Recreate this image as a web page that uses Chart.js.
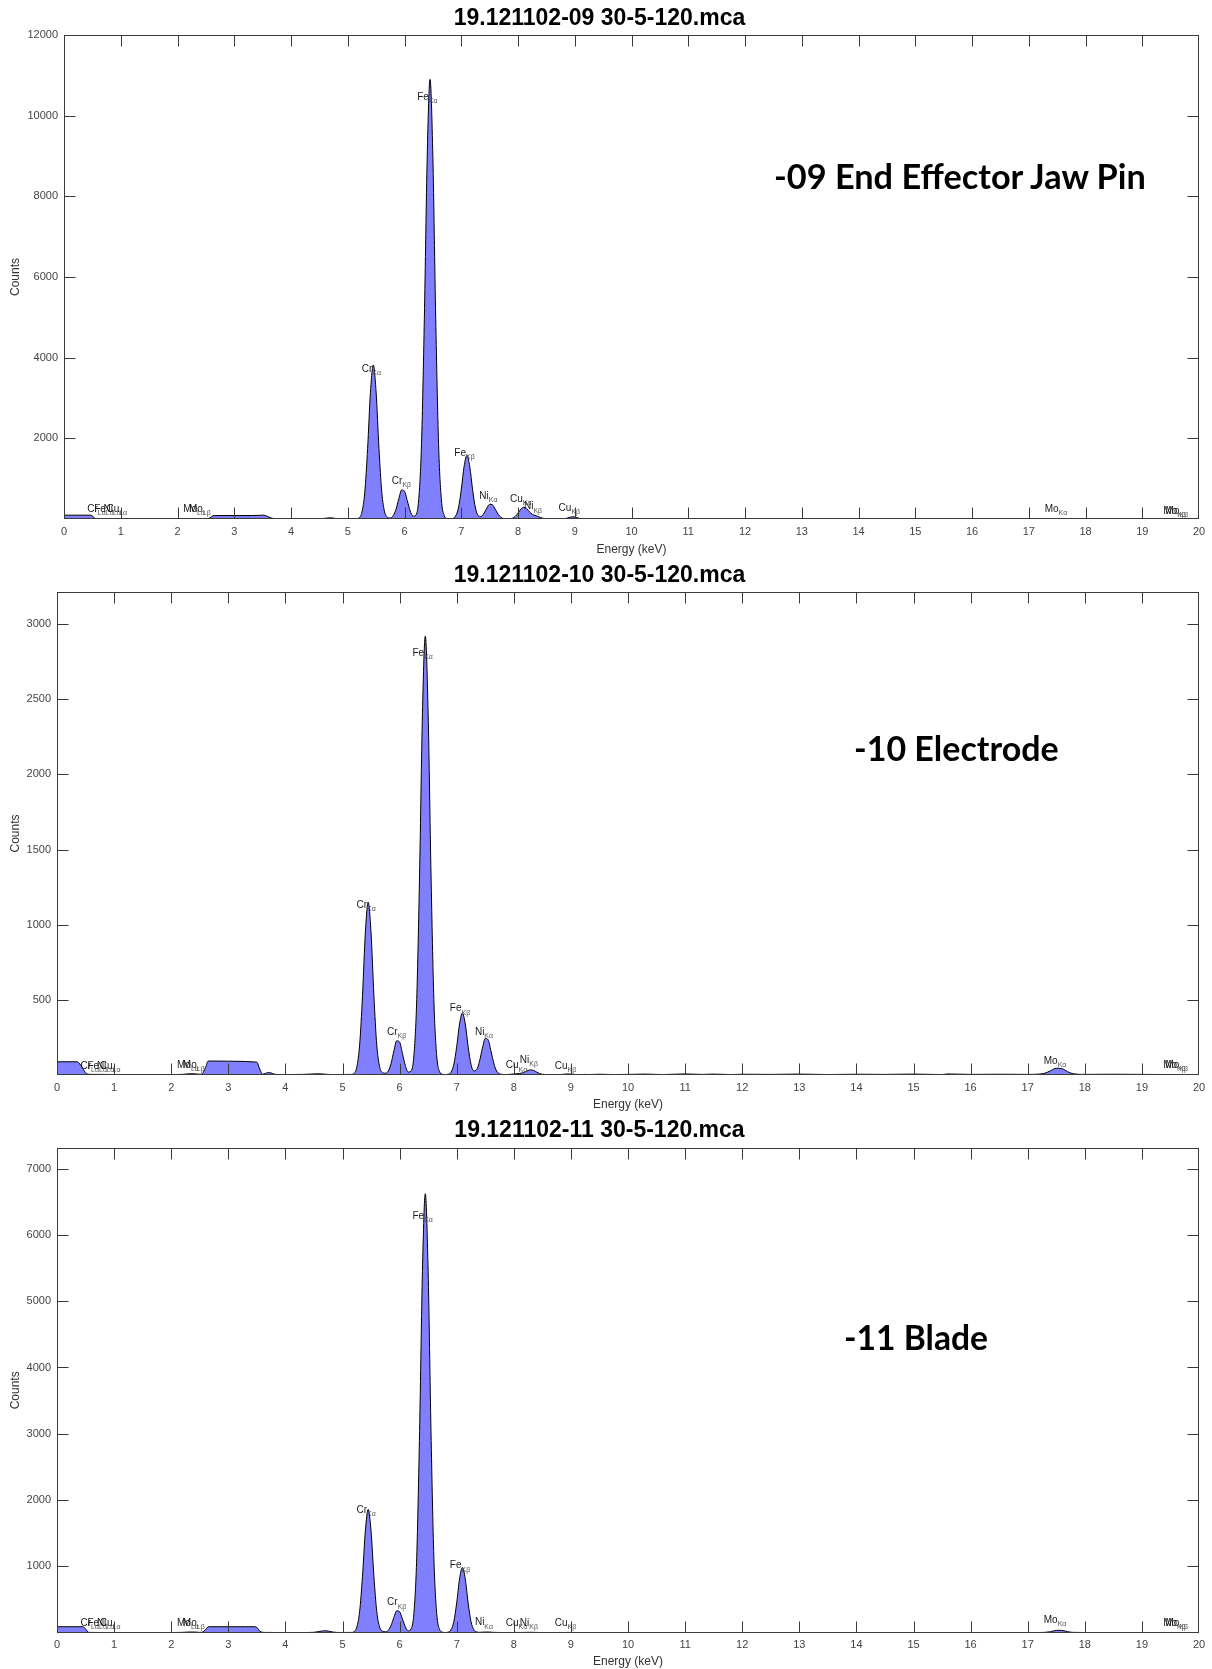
<!DOCTYPE html>
<html><head><meta charset="utf-8">
<script src="https://cdn.jsdelivr.net/npm/chart.js@4.4.1/dist/chart.umd.min.js"></script>
<style>
html,body{margin:0;padding:0;background:#fff;}
body{width:1212px;height:1669px;position:relative;overflow:hidden;}
canvas{position:absolute;left:0;}
.note{position:absolute;font-family:Lato,'Open Sans',sans-serif;font-weight:700;color:#000;white-space:nowrap;line-height:1;}
</style></head><body>
<canvas id="c1" width="1212" height="557" style="top:0px"></canvas>
<canvas id="c2" width="1212" height="555" style="top:557px"></canvas>
<canvas id="c3" width="1212" height="557" style="top:1112px"></canvas>
<div class="note" id="n1">-09 End Effector Jaw Pin</div>
<div class="note" id="n2">-10 Electrode</div>
<div class="note" id="n3">-11 Blade</div>
<script>
// ---------- DATA ----------
const titles = ['19.121102-09 30-5-120.mca', '19.121102-10 30-5-120.mca', '19.121102-11 30-5-120.mca'];
const notes = ['-09 End Effector Jaw Pin', '-10 Electrode', '-11 Blade'];

const energy = [
  0, 0.35, 0.45, 0.5, 0.55, 0.6, 0.8, 1.0, 1.3, 1.6,
  2.0, 2.2, 2.3, 2.4, 2.5, 2.55, 2.6, 2.65, 3.0, 3.3,
  3.45, 3.5, 3.55, 3.6, 3.65, 3.7, 3.75, 3.8, 3.9, 4.0,
  4.3, 4.5, 4.6, 4.7, 4.8, 4.9, 5.0, 5.1,
  5.15, 5.2, 5.25, 5.3, 5.35, 5.4, 5.45, 5.5, 5.55, 5.6,
  5.65, 5.7, 5.75, 5.8, 5.85, 5.9, 5.95, 6.0, 6.05, 6.1,
  6.15, 6.2, 6.25, 6.3, 6.35, 6.4, 6.45, 6.5, 6.55, 6.6,
  6.65, 6.7, 6.75, 6.8, 6.85, 6.9, 6.95, 7.0, 7.05, 7.1,
  7.15, 7.2, 7.25, 7.3, 7.35, 7.4, 7.45, 7.5, 7.55, 7.6,
  7.65, 7.7, 7.75, 7.8, 7.85, 7.9, 7.95, 8.0, 8.05, 8.1,
  8.15, 8.2, 8.25, 8.3, 8.35, 8.4, 8.45, 8.5, 8.55, 8.6,
  8.65, 8.7, 8.75, 8.8, 8.85, 8.9, 8.95, 9.0, 9.05, 9.1,
  9.15, 9.2, 9.25, 9.3,
  9.5, 9.75, 10, 10.3, 10.6, 11, 11.3, 11.5, 11.8, 12,
  12.5, 13, 13.5, 14, 14.5, 15, 15.5, 15.6, 16, 16.5,
  17, 17.2, 17.3, 17.4, 17.5, 17.6, 17.7, 17.8, 18, 18.5,
  19, 19.5, 20
];

const counts09 = [
  95, 95, 95, 80, 6, 5, 4, 3, 3, 3,
  3, 4, 6, 6, 4, 10, 60, 85, 85, 86,
  92, 96, 85, 55, 25, 10, 5, 3, 3, 3,
  3, 5, 18, 28, 10, 3, 3, 4,
  6, 30, 170, 660, 1750, 3140, 3820, 3140, 1750, 660,
  175, 45, 25, 80, 240, 505, 720, 690, 450, 200,
  70, 95, 480, 1875, 4990, 8970, 10900, 8970, 4990, 1875,
  480, 85, 12, 5, 14, 72, 272, 724, 1300, 1580,
  1300, 724, 275, 83, 63, 140, 267, 365, 352, 241,
  117, 40, 12, 5, 6, 20, 62, 145, 244, 290,
  259, 180, 120, 88, 63, 35, 15, 6, 3, 3,
  3, 3, 4, 6, 15, 35, 53, 50, 30, 10,
  4, 3, 3, 3,
  3, 3, 3, 3, 3, 3, 3, 3, 3, 3,
  3, 3, 3, 3, 3, 3, 3, 3, 3, 3,
  3, 3, 3, 4, 5, 5, 4, 3, 3, 3,
  3, 3, 3
];

const counts10 = [
  88, 88, 45, 15, 5, 4, 4, 3, 3, 3,
  3, 4, 8, 8, 5, 10, 50, 93, 92, 90,
  87, 85, 40, 6, 10, 16, 14, 6, 3, 3,
  4, 7, 8, 5, 3, 3, 3, 4,
  4, 10, 52, 200, 527, 946, 1150, 946, 527, 200,
  55, 17, 12, 25, 76, 160, 228, 219, 143, 63,
  20, 26, 128, 502, 1337, 2403, 2920, 2403, 1337, 502,
  128, 22, 5, 3, 5, 18, 71, 189, 339, 412,
  339, 189, 71, 27, 36, 92, 178, 243, 235, 160,
  78, 26, 8, 4, 3, 4, 5, 7, 9, 10,
  14, 22, 30, 34, 30, 20, 10, 5, 3, 3,
  3, 3, 3, 3, 4, 6, 7, 6, 4, 3,
  3, 3, 4, 3,
  5, 3, 4, 6, 3, 7, 4, 6, 3, 5,
  4, 6, 3, 5, 4, 6, 3, 7, 4, 5,
  4, 6, 12, 28, 45, 42, 22, 8, 4, 5,
  4, 3, 3
];

const counts11 = [
  90, 90, 90, 60, 6, 4, 3, 3, 3, 3,
  3, 5, 10, 10, 5, 10, 45, 90, 90, 90,
  90, 80, 25, 6, 4, 4, 4, 3, 3, 3,
  3, 6, 20, 30, 15, 4, 3, 4,
  4, 14, 82, 320, 852, 1531, 1860, 1531, 852, 320,
  85, 22, 14, 35, 110, 232, 330, 317, 206, 91,
  28, 56, 291, 1139, 3032, 5448, 6620, 5448, 3032, 1139,
  291, 50, 8, 3, 8, 43, 169, 451, 811, 985,
  811, 451, 169, 45, 12, 6, 8, 10, 10, 8,
  5, 4, 3, 3, 3, 3, 3, 3, 4, 4,
  4, 5, 6, 6, 5, 4, 3, 3, 3, 3,
  3, 3, 3, 3, 3, 3, 4, 4, 3, 3,
  3, 3, 3, 3,
  3, 3, 3, 3, 3, 3, 3, 3, 3, 3,
  3, 3, 3, 3, 3, 3, 3, 3, 3, 3,
  3, 3, 5, 15, 35, 35, 15, 5, 3, 3,
  3, 3, 3
];

const xTicks = [0,1,2,3,4,5,6,7,8,9,10,11,12,13,14,15,16,17,18,19,20];
const yTicks09 = [2000, 4000, 6000, 8000, 10000, 12000];
const yTicks10 = [500, 1000, 1500, 2000, 2500, 3000];
const yTicks11 = [1000, 2000, 3000, 4000, 5000, 6000, 7000];
const yMax = [12000, 3213, 7310];

const labelText   = ['Cr','Fe','Ni','Cu','Mo','Mo','Cr','Cr','Fe','Fe','Ni','Cu','Ni','Cu','Mo','Mo','Mo'];
const labelSub    = ['Lα','Lα','Lα','Lα','Lα','Lβ','Kα','Kβ','Kα','Kβ','Kα','Kα','Kβ','Kβ','Kα','Kβ','Kβ'];
const labelEnergy = [0.573,0.705,0.851,0.930,2.293,2.395,5.415,5.947,6.404,7.058,7.478,8.048,8.265,8.905,17.479,19.57,19.61];
const labelY09 = [240,240,240,240,240,240,3720,940,10450,1640,565,495,305,265,245,200,200];
const labelY10 = [60,60,60,60,66,66,1128,283,2808,441,283,62,97,60,93,66,66];
const labelY11 = [142,142,142,142,150,150,1850,452,6281,1010,151,142,150,150,191,150,150];

// ---------- RENDERING ----------
const FONT = "'Liberation Sans', Arial, Helvetica, sans-serif";

const axesPlugin = {
  id: 'matlabAxes',
  afterDatasetsDraw(chart) {
    const {ctx, chartArea: a, scales: {x, y}} = chart;
    ctx.save();
    ctx.strokeStyle = '#3a3a3a';
    ctx.lineWidth = 1;
    const L = Math.round(a.left) + 0.5, R = Math.round(a.right) - 0.5;
    const T = Math.round(a.top) + 0.5, B = Math.round(a.bottom) - 0.5;
    ctx.strokeRect(L, T, R - L, B - T);
    ctx.beginPath();
    x.ticks.forEach(t => {
      if (t.value <= 0 || t.value >= 20) return;
      const px = Math.round(x.getPixelForValue(t.value)) + 0.5;
      ctx.moveTo(px, B); ctx.lineTo(px, B - 11);
      ctx.moveTo(px, T); ctx.lineTo(px, T + 11);
    });
    y.ticks.forEach(t => {
      const py = Math.round(y.getPixelForValue(t.value)) + 0.5;
      if (py < T + 2) return;
      ctx.moveTo(L, py); ctx.lineTo(L + 11, py);
      ctx.moveTo(R, py); ctx.lineTo(R - 11, py);
    });
    ctx.stroke();
    ctx.restore();
  }
};

function labelPlugin(ys) {
  return {
    id: 'peakLabels',
    afterDatasetsDraw(chart) {
      const {ctx, scales: {x, y}} = chart;
      ctx.save();
      ctx.textBaseline = 'middle';
      ctx.textAlign = 'left';
      labelText.forEach((txt, i) => {
        const px = x.getPixelForValue(labelEnergy[i]);
        const py = y.getPixelForValue(ys[i]);
        ctx.font = '10px ' + FONT;
        const w1 = ctx.measureText(txt).width;
        ctx.font = '7px ' + FONT;
        const w2 = ctx.measureText(labelSub[i]).width;
        const x0 = px - (w1 + w2) / 2;
        ctx.font = '10px ' + FONT;
        ctx.fillStyle = '#1a1a1a';
        ctx.fillText(txt, x0, py);
        ctx.font = '7px ' + FONT;
        ctx.fillStyle = '#555';
        ctx.fillText(labelSub[i], x0 + w1, py + 4);
      });
      ctx.restore();
    }
  };
}

function makeChart(id, idx, counts, yTicks, labelYs, cfg) {
  const pts = energy.map((e, i) => ({x: e, y: counts[i]}));
  return new Chart(document.getElementById(id), {
    type: 'line',
    data: {datasets: [{
      data: pts, parsing: false, fill: 'origin',
      backgroundColor: 'rgb(128,128,255)', borderColor: '#000', borderWidth: 1,
      pointRadius: 0, cubicInterpolationMode: 'monotone'
    }]},
    options: {
      responsive: false, animation: false, devicePixelRatio: 1,
      layout: {padding: {left: 0, right: 13, top: 0, bottom: 0}},
      plugins: {
        legend: {display: false}, tooltip: {enabled: false},
        title: {display: true, text: titles[idx], color: '#000',
          font: {family: FONT, size: 23, weight: 'bold'},
          padding: {top: cfg.tpTop, bottom: cfg.tpBottom}}
      },
      scales: {
        x: {
          type: 'linear', min: 0, max: 20,
          afterFit: s => { s.height = cfg.xH; },
          afterBuildTicks: s => { s.ticks = xTicks.map(v => ({value: v})); },
          ticks: {autoSkip: false, maxRotation: 0, padding: 6, color: '#444',
            font: {family: FONT, size: 11}, callback: v => String(v)},
          grid: {display: false, drawTicks: false}, border: {display: false},
          title: {display: true, text: 'Energy (keV)', color: '#333',
            font: {family: FONT, size: 12}, padding: {top: 0, bottom: 0}}
        },
        y: {
          type: 'linear', min: 0, max: yMax[idx],
          afterFit: s => { s.width = cfg.yW; },
          afterBuildTicks: s => { s.ticks = yTicks.map(v => ({value: v})); },
          ticks: {padding: 6, color: '#444', font: {family: FONT, size: 11},
            callback: v => String(v)},
          grid: {display: false, drawTicks: false}, border: {display: false},
          title: {display: true, text: 'Counts', color: '#333',
            font: {family: FONT, size: 12}, padding: {top: 8, bottom: 0}}
        }
      }
    },
    plugins: [axesPlugin, labelPlugin(labelYs)]
  });
}

makeChart('c1', 0, counts09, yTicks09, labelY09, {tpTop: 4.6, tpBottom: 2.8, xH: 38, yW: 64});
makeChart('c2', 1, counts10, yTicks10, labelY10, {tpTop: 4.7, tpBottom: 2.7, xH: 37, yW: 57});
makeChart('c3', 2, counts11, yTicks11, labelY11, {tpTop: 4.6, tpBottom: 3.8, xH: 36.3, yW: 57});

// overlay annotations (fit to reference widths)
const notePos = [[774, 176, 372], [854, 748, 205], [844, 1338, 144]];
notePos.forEach((p, i) => {
  const el = document.getElementById('n' + (i + 1));
  el.textContent = notes[i];
  el.style.fontSize = '32px';
  const w = el.offsetWidth;
  const fs = 32 * p[2] / w;
  el.style.fontSize = fs.toFixed(2) + 'px';
  el.style.left = p[0] + 'px';
  el.style.top = (p[1] - el.offsetHeight / 2) + 'px';
});
</script>
</body></html>
